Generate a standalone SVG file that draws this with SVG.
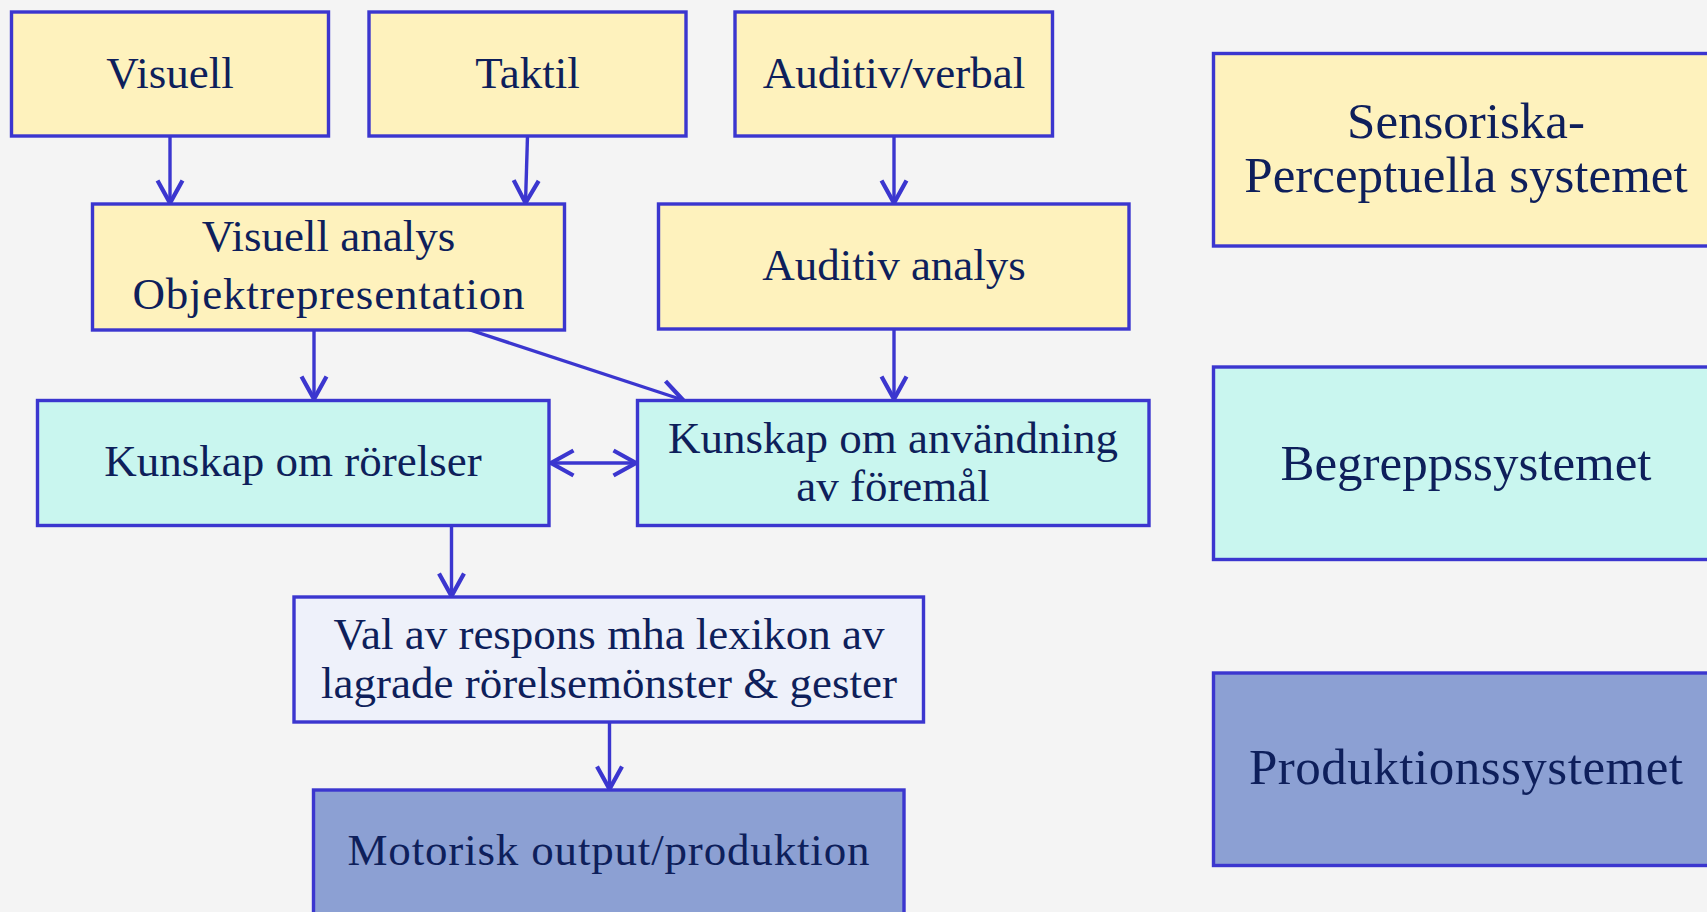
<svg xmlns="http://www.w3.org/2000/svg" width="1707" height="912" viewBox="0 0 1707 912">
<defs>
<style>
.box{stroke:#3b36cf;stroke-width:3.4}
.yel{fill:#fef2bd}
.cyan{fill:#c9f6ef}
.pale{fill:#eef1fa}
.dark{fill:#8ca0d3}
.t{font-family:"Liberation Serif",serif;font-size:45px;fill:#0e1f5b;text-anchor:middle}
.tr{font-family:"Liberation Serif",serif;font-size:51px;fill:#0e1f5b;text-anchor:middle}
.c{stroke:#3b36cf;stroke-width:3.4;fill:none;marker-end:url(#ah)}
</style>
<marker id="ah" markerUnits="userSpaceOnUse" markerWidth="30" markerHeight="30" viewBox="-20 -12 22 24" refX="0" refY="0" orient="auto-start-reverse" overflow="visible">
<path d="M-18,-10 L0,0 L-18,10" fill="none" stroke="#3b36cf" stroke-width="3.4" stroke-linejoin="miter"/>
</marker>
</defs>
<rect x="0" y="0" width="1707" height="912" fill="#f4f4f4"/>
<g id="connectors">
<line class="c" x1="170" y1="136" x2="170" y2="203"/>
<line class="c" x1="527.5" y1="136" x2="525.5" y2="203"/>
<line class="c" x1="894" y1="136" x2="894" y2="203"/>
<line class="c" x1="314" y1="330" x2="314" y2="399"/>
<line class="c" x1="467" y1="329" x2="683" y2="400"/>
<line class="c" x1="894" y1="329" x2="894" y2="399"/>
<line class="c" x1="551" y1="463" x2="636" y2="463" style="marker-start:url(#ah)"/>
<line class="c" x1="451.5" y1="525" x2="451.5" y2="596"/>
<line class="c" x1="609.5" y1="722" x2="609.5" y2="789"/>
</g>
<g id="visuell">
<rect class="box yel" x="11.5" y="12" width="317" height="124"/>
<text class="t" x="170" y="88">Visuell</text>
</g>
<g id="taktil">
<rect class="box yel" x="369" y="12" width="317" height="124"/>
<text class="t" x="527.5" y="88">Taktil</text>
</g>
<g id="auditiv-verbal">
<rect class="box yel" x="735" y="12" width="317.5" height="124"/>
<text class="t" x="894" y="88">Auditiv/verbal</text>
</g>
<g id="visuell-analys">
<rect class="box yel" x="92.5" y="204" width="472" height="126"/>
<text class="t" x="328.5" y="250.5">Visuell analys</text>
<text class="t" x="328.5" y="309" textLength="392">Objektrepresentation</text>
</g>
<g id="auditiv-analys">
<rect class="box yel" x="658.5" y="204" width="470.5" height="125"/>
<text class="t" x="894" y="280">Auditiv analys</text>
</g>
<g id="kunskap-rorelser">
<rect class="box cyan" x="37.5" y="400.5" width="511.5" height="125"/>
<text class="t" x="293" y="476">Kunskap om rörelser</text>
</g>
<g id="kunskap-anvandning">
<rect class="box cyan" x="637.5" y="400.5" width="511.5" height="125"/>
<text class="t" x="893" y="452.5">Kunskap om användning</text>
<text class="t" x="893" y="500.5">av föremål</text>
</g>
<g id="val-av-respons">
<rect class="box pale" x="294" y="597" width="629.5" height="125"/>
<text class="t" x="609" y="648.5">Val av respons mha lexikon av</text>
<text class="t" x="609" y="697.5">lagrade rörelsemönster &amp; gester</text>
</g>
<g id="motorisk">
<rect class="box dark" x="313.5" y="790" width="590.5" height="140"/>
<text class="t" x="608.5" y="864.5" textLength="522">Motorisk output/produktion</text>
</g>
<g id="sensoriska">
<rect class="box yel" x="1213.5" y="53.5" width="520" height="192.5"/>
<text class="tr" x="1466" y="138">Sensoriska-</text>
<text class="tr" x="1466" y="192">Perceptuella systemet</text>
</g>
<g id="begrepps">
<rect class="box cyan" x="1213.5" y="367" width="520" height="192.5"/>
<text class="tr" x="1466" y="480">Begreppssystemet</text>
</g>
<g id="produktions">
<rect class="box dark" x="1213.5" y="673" width="520" height="192.5"/>
<text class="tr" x="1466" y="784" textLength="434">Produktionssystemet</text>
</g>
</svg>
